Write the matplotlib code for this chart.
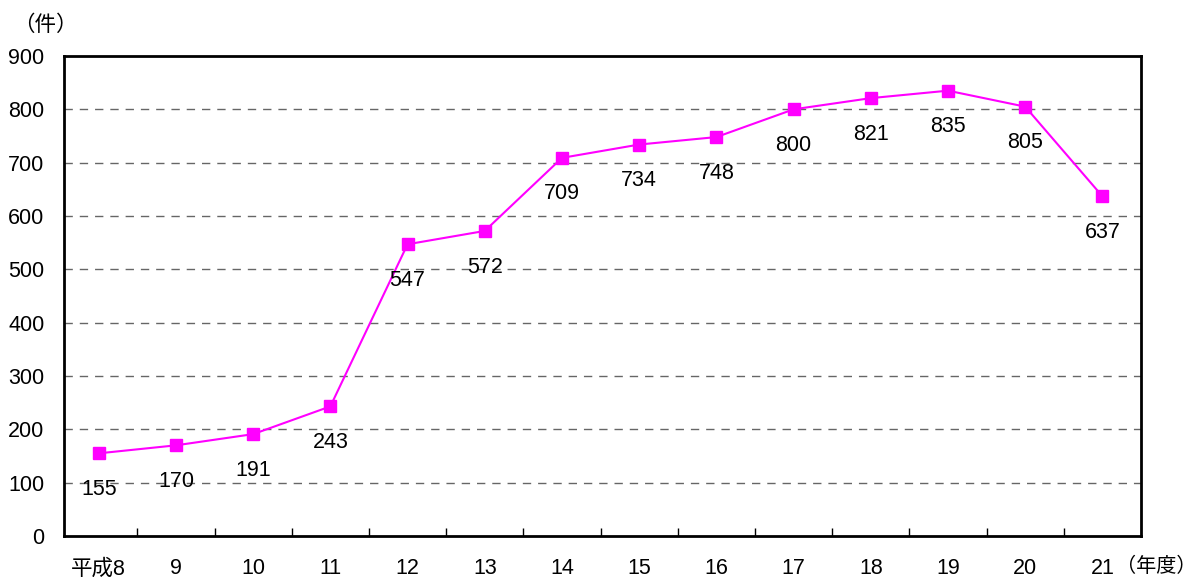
import matplotlib
matplotlib.use("Agg")
import matplotlib.pyplot as plt
import numpy as np

plt.rcParams['font.family'] = ['Liberation Sans', 'Noto Sans CJK JP']

categories = ['平成8', '9', '10', '11', '12', '13', '14', '15', '16', '17', '18', '19', '20', '21']
values = [155, 170, 191, 243, 547, 572, 709, 734, 748, 800, 821, 835, 805, 637]
yticks = [0, 100, 200, 300, 400, 500, 600, 700, 800, 900]

FS = 15.5

fig = plt.figure(figsize=(11.97, 5.77), dpi=100)
ax = fig.add_axes([64/1197, 1-536/577, (1141-64)/1197, (536-56)/577])

x = np.arange(len(categories))
ax.plot(x, values, color='#FF00FF', lw=1.5, marker='s', ms=9, mfc='#FF00FF', mec='#FF00FF', zorder=3)

for xi, v in zip(x, values):
    ax.annotate(str(v), (xi, v), xytext=(0, -26), textcoords='offset points',
                ha='center', va='center', fontsize=FS, color='black', zorder=4)

ax.set_xlim(-0.45, len(categories) - 0.5)
ax.set_ylim(0, 900)
ax.set_yticks(yticks)
ax.set_yticklabels([str(t) for t in yticks], fontsize=FS)
ax.set_xticks(x)
ax.set_xticklabels(categories, fontsize=FS)
ax.set_xticks(np.arange(0.5, len(categories) - 1, 1), minor=True)
ax.tick_params(axis='x', which='major', length=0, pad=16)
ax.tick_params(axis='x', which='minor', direction='in', length=6, width=1)
ax.tick_params(axis='y', which='major', length=0, pad=14)

for t in yticks[1:-1]:
    ax.axhline(t, color='#666666', lw=1, ls=(0, (6, 5)), zorder=1)

for s in ax.spines.values():
    s.set_linewidth(2)
    s.set_color('black')

fig.text(45/1197, 1-25/577, '（件）', fontsize=FS, ha='center', va='center')
fig.text(1196/1197, 1-566/577, '（年度）', fontsize=14.5, ha='right', va='center')

fig.savefig('out.png', dpi=100)
